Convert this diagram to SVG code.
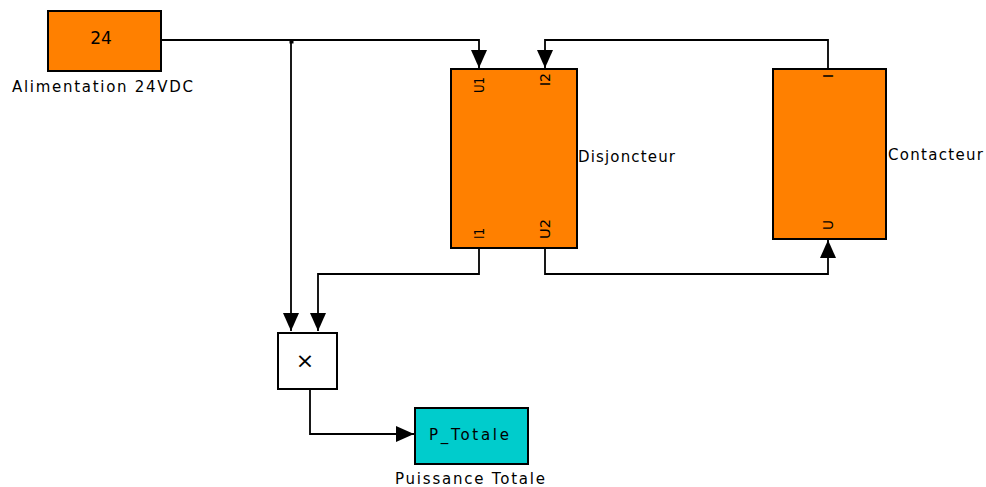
<svg xmlns="http://www.w3.org/2000/svg" width="986" height="487" viewBox="0 0 986 487">
<style>
.blk{stroke:#000;stroke-width:2}
.orange{fill:#FF8000}
.cyan{fill:#00CCCC}
.white{fill:#FFFFFF}
.wire{fill:none;stroke:#000;stroke-width:1.8}
text{font-family:"DejaVu Sans","Liberation Sans",sans-serif;fill:#000}
.lbl{font-size:15px}
.port{font-size:14px}
</style>
<defs>
<marker id="arr" viewBox="0 0 18 16" refX="18" refY="8" markerWidth="18" markerHeight="16" markerUnits="userSpaceOnUse" orient="auto">
<path d="M0,0 L18,8 L0,16 Z" fill="#000"/>
</marker>
</defs>
<rect width="986" height="487" fill="#FFFFFF"/>
<g id="connectors">
<path class="wire" d="M161,40 H479 V68" marker-end="url(#arr)"/>
<path class="wire" d="M291,40 V331" marker-end="url(#arr)"/>
<rect x="289.5" y="39.5" width="4" height="4" fill="#000"/>
<path class="wire" d="M828,69 V40 H545 V68" marker-end="url(#arr)"/>
<path class="wire" d="M479,248 V274 H318 V331" marker-end="url(#arr)"/>
<path class="wire" d="M545,248 V274 H828 V240" marker-end="url(#arr)"/>
<path class="wire" d="M310,389 V434 H414" marker-end="url(#arr)"/>
</g>
<g id="alimentation">
<rect class="blk orange" x="48" y="11" width="113" height="60"/>
<text x="101" y="44" font-size="17" text-anchor="middle">24</text>
<text class="lbl" x="12" y="92" textLength="181" lengthAdjust="spacing">Alimentation 24VDC</text>
</g>
<g id="disjoncteur">
<rect class="blk orange" x="451" y="69" width="126" height="179"/>
<text class="port" transform="translate(484,93) rotate(-90)" textLength="16" lengthAdjust="spacingAndGlyphs">U1</text>
<text class="port" transform="translate(550,86) rotate(-90)" textLength="13" lengthAdjust="spacingAndGlyphs">I2</text>
<text class="port" transform="translate(484,239) rotate(-90)" textLength="11" lengthAdjust="spacingAndGlyphs">I1</text>
<text class="port" transform="translate(550,239) rotate(-90)" textLength="20" lengthAdjust="spacingAndGlyphs">U2</text>
<text class="lbl" x="578" y="162" textLength="97" lengthAdjust="spacing">Disjoncteur</text>
</g>
<g id="contacteur">
<rect class="blk orange" x="773" y="69" width="113" height="170"/>
<text class="port" transform="translate(833,78) rotate(-90)">I</text>
<text class="port" transform="translate(833,230) rotate(-90)" textLength="10" lengthAdjust="spacingAndGlyphs">U</text>
<text class="lbl" x="888" y="160" textLength="95" lengthAdjust="spacing">Contacteur</text>
</g>
<g id="produit">
<rect class="blk white" x="278" y="333" width="59" height="56"/>
<text x="305" y="368" font-size="22" text-anchor="middle">×</text>
</g>
<g id="p_totale">
<rect class="blk cyan" x="415" y="408" width="113" height="56"/>
<text class="lbl" x="429" y="440" textLength="80" lengthAdjust="spacing">P_Totale</text>
<text class="lbl" x="395" y="484" textLength="150" lengthAdjust="spacing">Puissance Totale</text>
</g>
</svg>
